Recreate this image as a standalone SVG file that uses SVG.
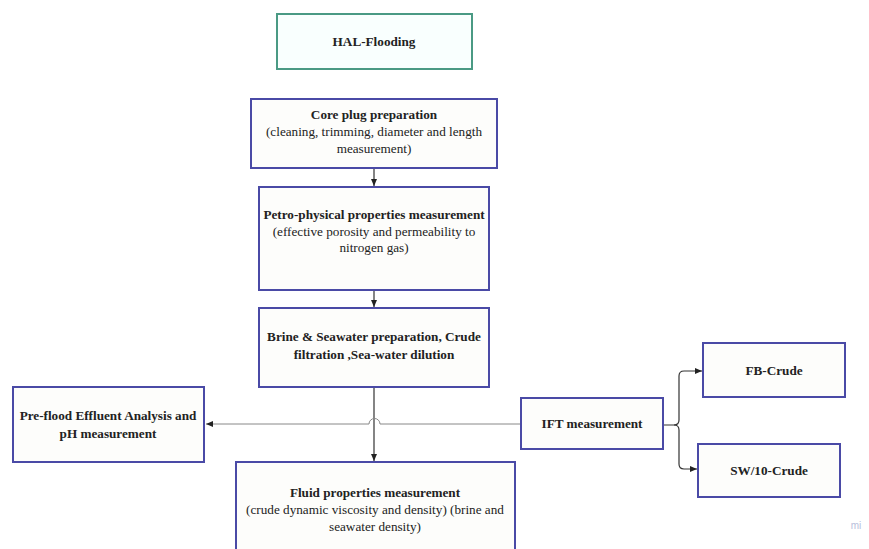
<svg xmlns="http://www.w3.org/2000/svg" width="869" height="549" viewBox="0 0 869 549">
<style>
.box{fill:#fdfdfb;stroke:#4a4aa6;stroke-width:2}
.top{fill:#f9fffe;stroke:#4a9a84;stroke-width:2}
text{font-family:"Liberation Serif","Times New Roman",serif;font-size:13.2px;fill:#222;text-anchor:middle}
.b{font-weight:bold}
.c{fill:none;stroke:#333;stroke-width:1.2}
.g{fill:none;stroke:#888;stroke-width:1}
</style>
<defs>
<marker id="ah" markerWidth="8" markerHeight="8" refX="7" refY="4" orient="auto" markerUnits="userSpaceOnUse">
<path d="M0,1 L7,4 L0,7 Z" fill="#222"/>
</marker>
</defs>
<rect width="869" height="549" fill="#fff"/>
<g id="connectors">
<line class="c" x1="374" y1="169" x2="374" y2="186" marker-end="url(#ah)"/>
<line class="c" x1="374" y1="291" x2="374" y2="307" marker-end="url(#ah)"/>
<line class="c" x1="374" y1="388" x2="374" y2="461" marker-end="url(#ah)"/>
<path class="g" d="M520,424 L380,424 A5,5 0 0 0 369,424 L206,424" marker-end="url(#ah)"/>
<path class="c" d="M664,425 L674,425 Q679,425 679,420 L679,376 Q679,371 684,371 L702,371" marker-end="url(#ah)"/>
<path class="c" d="M674,425 Q679,425 679,430 L679,464 Q679,469 684,469 L697,469" marker-end="url(#ah)"/>
</g>
<g id="hal"><rect class="top" x="277" y="14" width="195" height="55"/><text class="b" x="374" y="46">HAL-Flooding</text></g>
<g id="core"><rect class="box" x="251" y="99" width="246" height="69"/>
<text class="b" x="374" y="119">Core plug preparation</text>
<text x="374" y="136">(cleaning, trimming, diameter and length</text>
<text x="374" y="153">measurement)</text></g>
<g id="petro"><rect class="box" x="259" y="187" width="230" height="103"/>
<text class="b" x="374" y="219">Petro-physical properties measurement</text>
<text x="374" y="236">(effective porosity and permeability to</text>
<text x="374" y="252">nitrogen gas)</text></g>
<g id="brine"><rect class="box" x="259" y="308" width="230" height="79"/>
<text class="b" x="374" y="341">Brine &amp; Seawater preparation, Crude</text>
<text class="b" x="374" y="359">filtration ,Sea-water dilution</text></g>
<g id="preflood"><rect class="box" x="13" y="387" width="191" height="75"/>
<text class="b" x="108" y="420">Pre-flood Effluent Analysis and</text>
<text class="b" x="108" y="438">pH measurement</text></g>
<g id="fluid"><rect class="box" x="236" y="462" width="279" height="95"/>
<text class="b" x="375" y="497">Fluid properties measurement</text>
<text x="375" y="514">(crude dynamic viscosity and density) (brine and</text>
<text x="375" y="531">seawater density)</text></g>
<g id="ift"><rect class="box" x="521" y="398" width="142" height="51"/>
<text class="b" x="592" y="428">IFT measurement</text></g>
<g id="fb"><rect class="box" x="703" y="343" width="142" height="54"/>
<text class="b" x="774" y="375">FB-Crude</text></g>
<g id="sw"><rect class="box" x="698" y="444" width="142" height="53"/>
<text class="b" x="769" y="475">SW/10-Crude</text></g>
<text x="856" y="529" style="font-size:10px;fill:#b8c0dc;font-family:'Liberation Sans',sans-serif">mi</text>
</svg>
